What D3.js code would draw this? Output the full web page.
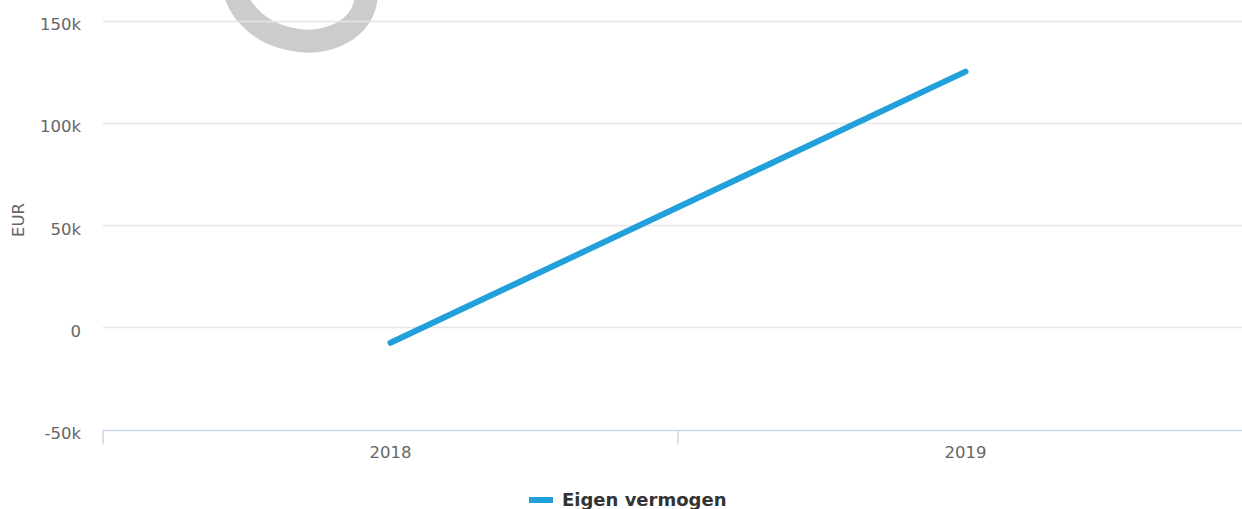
<!DOCTYPE html>
<html>
<head>
<meta charset="utf-8">
<script src="https://cdn.jsdelivr.net/npm/d3@7/dist/d3.min.js"></script>
<style>
  body { margin: 0; background: #fff; }
  svg { display: block; font-family: "DejaVu Sans", sans-serif; }
</style>
</head>
<body>
<div id="chart"></div>
<script>
// chart values
const years = ["2018", "2019"];
const eigenVermogen = [-7600, 125000];
const yTicks = [-50000, 0, 50000, 100000, 150000];
const seriesName = "Eigen vermogen";

const width = 1242, height = 509;
const margin = { top: 20.5, left: 103, bottom: 429.5 };
const bandWidth = 575;

const svg = d3.select("#chart").append("svg")
  .attr("width", width)
  .attr("height", height);

let x = d3.scaleBand()
  .domain(years)
  .range([margin.left, margin.left + bandWidth * years.length]);

let y = d3.scaleLinear()
  .domain([-50000, 150000])
  .range([margin.bottom, margin.top]);

// grey watermark ring, partly outside the picture
svg.append("ellipse")
  .attr("transform", "translate(300,-12) rotate(14)")
  .attr("rx", 67)
  .attr("ry", 52)
  .attr("fill", "none")
  .attr("stroke", "#cccccc")
  .attr("stroke-width", 23);

// grid lines
svg.append("g")
  .selectAll("line")
  .data(yTicks.filter(d => d != -50000))
  .enter()
  .append("line")
  .attr("x1", margin.left)
  .attr("x2", width)
  .attr("y1", d => Math.round(y(d)) + 0.5)
  .attr("y2", d => Math.round(y(d)) + 0.5)
  .attr("stroke", "#e6e6e6")
  .attr("stroke-width", 1.5);

// y labels
svg.append("g")
  .selectAll("text")
  .data(yTicks)
  .enter()
  .append("text")
  .attr("x", 81)
  .attr("y", d => y(d) + 9.5)
  .attr("text-anchor", "end")
  .attr("fill", "#666666")
  .style("font-size", "16.5px")
  .text(d => d == 0 ? "0" : (d / 1000) + "k");

svg.append("text")
  .attr("transform", "translate(24,220) rotate(-90)")
  .attr("text-anchor", "middle")
  .attr("fill", "#666666")
  .style("font-size", "16.5px")
  .text("EUR");

// x axis line and tick marks
const xg = svg.append("g")
  .attr("transform", `translate(0, ${Math.round(margin.bottom) + 0.5})`);

xg.append("line")
  .attr("x1", margin.left)
  .attr("x2", width)
  .attr("stroke", "#ccd6eb")
  .attr("stroke-width", 1.5);

xg.selectAll("line.tickmark")
  .data(years.concat(["end"]))
  .enter()
  .append("line")
  .attr("class", "tickmark")
  .attr("x1", (d, i) => margin.left + i * x.step())
  .attr("x2", (d, i) => margin.left + i * x.step())
  .attr("y1", 0)
  .attr("y2", 14)
  .attr("stroke", "#ccd6eb")
  .attr("stroke-width", 1.5);

svg.append("g")
  .selectAll("text")
  .data(years)
  .enter()
  .append("text")
  .attr("x", d => x(d) + x.bandwidth() / 2)
  .attr("y", 458)
  .attr("text-anchor", "middle")
  .attr("fill", "#666666")
  .style("font-size", "16.5px")
  .text(d => d);

// series line
const line = d3.line()
  .x((d, i) => x(years[i]) + x.bandwidth() / 2)
  .y(d => y(d));

svg.append("path")
  .datum(eigenVermogen)
  .attr("d", line)
  .attr("fill", "none")
  .attr("stroke", "#21a0db")
  .attr("stroke-width", 6)
  .attr("stroke-linecap", "round")
  .attr("stroke-linejoin", "round");

// legend
const legend = svg.append("g").attr("transform", "translate(529, 500)");
legend.append("line")
  .attr("x1", 0).attr("x2", 24)
  .attr("stroke", "#21a0db")
  .attr("stroke-width", 6);
legend.append("text")
  .attr("x", 33)
  .attr("y", 6)
  .attr("fill", "#333333")
  .style("font-size", "18px")
  .style("font-weight", "bold")
  .text(seriesName);
</script>
</body>
</html>
